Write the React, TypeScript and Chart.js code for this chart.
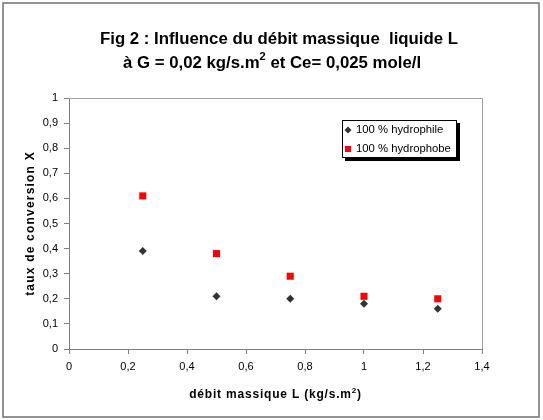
import React, { useEffect, useRef } from "react";
import { Chart, registerables } from "chart.js";

Chart.register(...registerables);

const xValues = [0.25, 0.5, 0.75, 1, 1.25];
const hydrophile = [0.39, 0.21, 0.2, 0.18, 0.16];
const hydrophobe = [0.61, 0.38, 0.29, 0.21, 0.2];
const seriesNames = ["100 % hydrophile", "100 % hydrophobe"];
const xTickLabels = ["0", "0,2", "0,4", "0,6", "0,8", "1", "1,2", "1,4"];
const yTickLabels = ["0", "0,1", "0,2", "0,3", "0,4", "0,5", "0,6", "0,7", "0,8", "0,9", "1"];
const titleLine1 = ["Fig 2 : Influence du débit massique  liquide L"];
const titleLine2 = ["à G = 0,02 kg/s.m", "2", " et Ce= 0,025 mole/l"];
const xTitle = ["débit massique L (kg/s.m", "2", ")"];
const yTitle = "taux de conversion X";

const FONT = "'Liberation Sans', Arial, Helvetica, sans-serif";

function drawSegs(
  ctx: CanvasRenderingContext2D,
  segs: string[],
  cx: number,
  y: number,
  size: number,
  spacing = 0
) {
  const supSize = Math.round(size * 0.65);
  (ctx as any).letterSpacing = `${spacing}px`;
  const widths = segs.map((s, i) => {
    ctx.font = `bold ${i % 2 === 1 ? supSize : size}px ${FONT}`;
    return ctx.measureText(s).width;
  });
  const total = widths.reduce((a, b) => a + b, 0);
  let x = cx - total / 2;
  ctx.textAlign = "left";
  ctx.textBaseline = "alphabetic";
  segs.forEach((s, i) => {
    const sup = i % 2 === 1;
    ctx.font = `bold ${sup ? supSize : size}px ${FONT}`;
    ctx.fillText(s, x, sup ? y - size * 0.45 : y);
    x += widths[i];
  });
  (ctx as any).letterSpacing = "0px";
}

const decorPlugin = {
  id: "decor",
  beforeDraw(chart: any) {
    const ctx = chart.ctx as CanvasRenderingContext2D;
    ctx.save();
    ctx.fillStyle = "#ffffff";
    ctx.fillRect(0, 0, chart.width, chart.height);
    ctx.strokeStyle = "#707070";
    ctx.lineWidth = 1.5;
    ctx.strokeRect(3, 3, 536, 414);
    ctx.restore();
  },
  afterDraw(chart: any) {
    const ctx = chart.ctx as CanvasRenderingContext2D;
    const a = chart.chartArea;
    ctx.save();
    // plot border top/right
    ctx.strokeStyle = "#a0a0a0";
    ctx.lineWidth = 1;
    ctx.beginPath();
    ctx.moveTo(a.left, a.top + 0.5);
    ctx.lineTo(a.right + 0.5, a.top + 0.5);
    ctx.lineTo(a.right + 0.5, a.bottom);
    ctx.stroke();

    ctx.fillStyle = "#000";
    drawSegs(ctx, titleLine1, 279, 44, 16.8);
    drawSegs(ctx, titleLine2, 272, 68, 16.8);
    drawSegs(ctx, xTitle, (a.left + a.right) / 2, 398, 12, 0.8);

    ctx.save();
    ctx.translate(31, (a.top + a.bottom) / 2);
    ctx.rotate(-Math.PI / 2);
    ctx.font = `bold 12px ${FONT}`;
    (ctx as any).letterSpacing = "1.2px";
    ctx.textAlign = "center";
    ctx.textBaseline = "middle";
    ctx.fillText(yTitle, 0, 0);
    (ctx as any).letterSpacing = "0px";
    ctx.restore();

    // legend
    const lx = 342, ly = 120, lw = 115, lh = 38;
    ctx.fillStyle = "#000";
    ctx.fillRect(lx + 3, ly + 3, lw, lh);
    ctx.fillStyle = "#fff";
    ctx.fillRect(lx, ly, lw, lh);
    ctx.strokeStyle = "#000";
    ctx.lineWidth = 1;
    ctx.strokeRect(lx + 0.5, ly + 0.5, lw - 1, lh - 1);

    const r1 = ly + 10, r2 = ly + 29;
    ctx.fillStyle = "#333333";
    ctx.beginPath();
    ctx.moveTo(348, r1 - 3.5);
    ctx.lineTo(351.5, r1);
    ctx.lineTo(348, r1 + 3.5);
    ctx.lineTo(344.5, r1);
    ctx.closePath();
    ctx.fill();
    ctx.fillStyle = "#ff0000";
    ctx.fillRect(345, r2 - 3, 6, 6);

    ctx.fillStyle = "#000";
    ctx.font = `11.3px ${FONT}`;
    ctx.textAlign = "left";
    ctx.textBaseline = "middle";
    ctx.fillText(seriesNames[0], 356, r1);
    ctx.fillText(seriesNames[1], 356, r2);
    ctx.restore();
  },
};

export default function App() {
  const ref = useRef<HTMLCanvasElement>(null);
  useEffect(() => {
    if (!ref.current) return;
    const chart = new Chart(ref.current, {
      type: "scatter",
      data: {
        datasets: [
          {
            label: seriesNames[0],
            data: xValues.map((x, i) => ({ x, y: hydrophile[i] })),
            pointStyle: "rectRot",
            pointRadius: 4,
            backgroundColor: "#333333",
            borderColor: "#333333",
            borderWidth: 0,
          },
          {
            label: seriesNames[1],
            data: xValues.map((x, i) => ({ x, y: hydrophobe[i] })),
            pointStyle: "rect",
            pointRadius: 5,
            backgroundColor: "#ff0000",
            borderColor: "#ff0000",
            borderWidth: 0,
          },
        ],
      },
      options: {
        animation: false,
        responsive: false,
        devicePixelRatio: 1,
        layout: { padding: { top: 98, right: 61, left: 0, bottom: 0 } },
        plugins: {
          legend: { display: false },
          title: { display: false },
          tooltip: { enabled: false },
        },
        scales: {
          x: {
            type: "linear",
            min: 0,
            max: 1.4,
            ticks: {
              stepSize: 0.2,
              autoSkip: false,
              maxRotation: 0,
              callback: (_v: any, i: number) => xTickLabels[i],
              font: { family: FONT, size: 11 },
              color: "#000",
              padding: 6,
            },
            grid: { drawOnChartArea: false, tickLength: 5, color: "#808080" },
            border: { color: "#808080" },
            afterFit: (s: any) => {
              s.height = 71;
            },
          },
          y: {
            type: "linear",
            min: 0,
            max: 1,
            ticks: {
              stepSize: 0.1,
              autoSkip: false,
              callback: (_v: any, i: number) => yTickLabels[i],
              font: { family: FONT, size: 11 },
              color: "#000",
              padding: 6,
            },
            grid: { drawOnChartArea: false, tickLength: 5, color: "#808080" },
            border: { color: "#808080" },
            afterFit: (s: any) => {
              s.width = 69;
            },
          },
        },
      },
      plugins: [decorPlugin],
    } as any);
    return () => chart.destroy();
  }, []);
  return (
    <div style={{ position: "absolute", left: 0, top: 0, width: 543, height: 420 }}>
      <canvas ref={ref} width={543} height={420} style={{ display: "block" }} />
    </div>
  );
}
